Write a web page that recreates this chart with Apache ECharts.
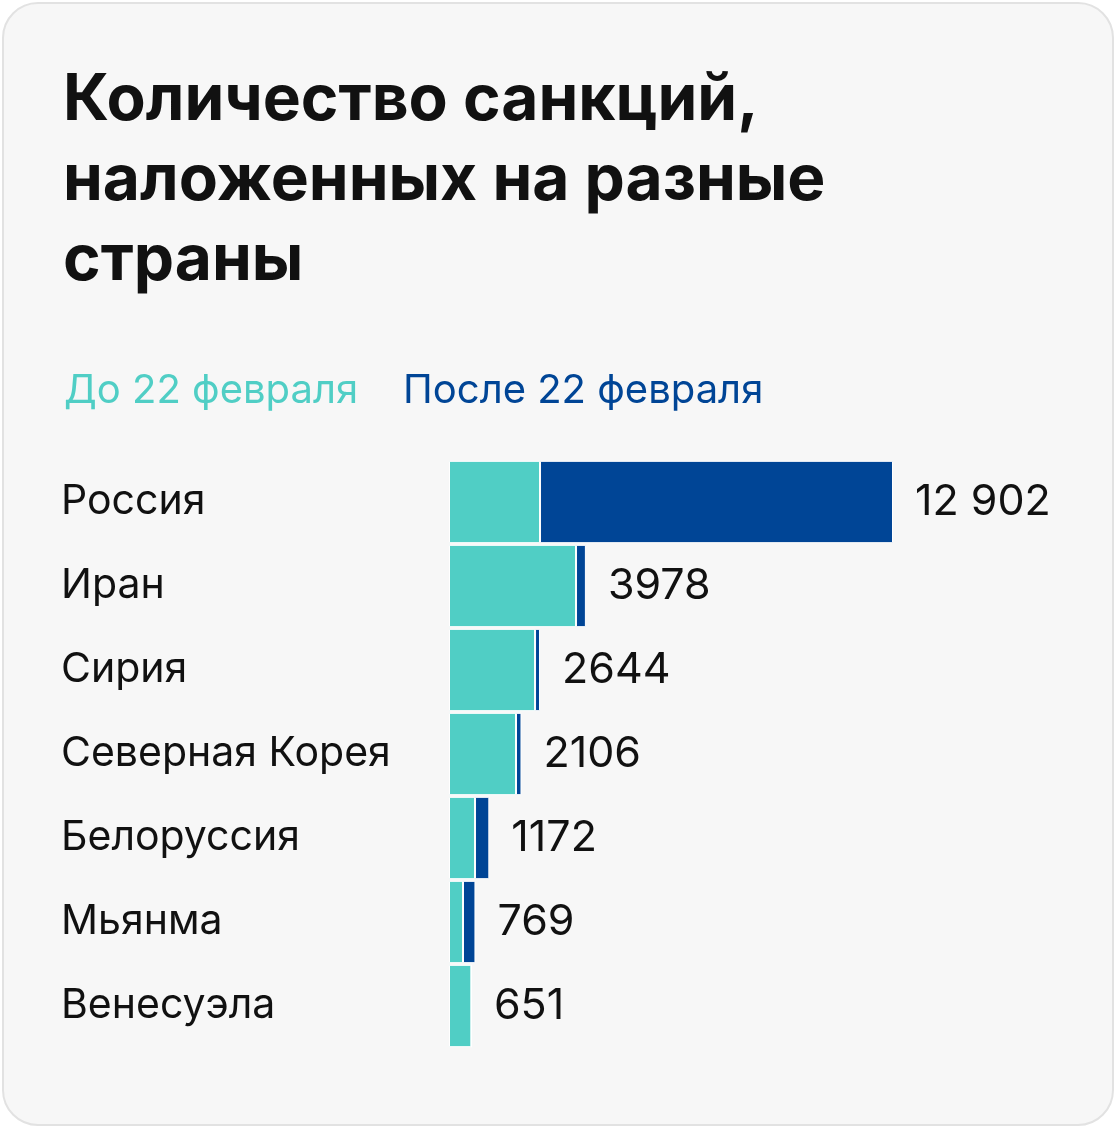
<!DOCTYPE html>
<html><head><meta charset="utf-8">
<script src="https://cdn.jsdelivr.net/npm/echarts@6/dist/echarts.min.js"></script>
<style>
html,body{margin:0;padding:0;background:#fff;}
#card{position:absolute;left:2px;top:2px;width:1112px;height:1124px;border:2px solid #e2e2e2;border-radius:36px;background:#f7f7f7;box-sizing:border-box;}
#c{position:absolute;left:0;top:0;width:1120px;height:1132px;}
</style></head><body>
<div id="card"></div><div id="c"></div>
<script>
const categories = ["Россия","Иран","Сирия","Северная Корея","Белоруссия","Мьянма","Венесуэла"];
const before = [2645, 3691, 2500, 1947, 756, 407, 651];
const totals = [12902, 3978, 2644, 2106, 1172, 769, 651];
const after = totals.map((t,i)=>t-before[i]);
const seriesNames = ["До 22 февраля","После 22 февраля"];
const teal = "#50cec5", navy = "#004596";
const chart = echarts.init(document.getElementById('c'), null, {renderer:'canvas'});
chart.setOption({
  backgroundColor:'transparent',
  animation:false,
  title:{text:"Количество санкций,\nналоженных на разные\nстраны", left:58, top:56,
    textStyle:{fontFamily:'Inter',fontWeight:'bold',fontSize:64,lineHeight:80,color:'#111'}},
  legend:{left:54, top:366, icon:'none', itemWidth:0, itemGap:40,
    textStyle:{fontFamily:'Inter',fontSize:40},
    data:[{name:seriesNames[0],textStyle:{color:teal}},{name:seriesNames[1],textStyle:{color:navy}}]},
  grid:{left:449, width:444, top:460, height:588},
  xAxis:{type:'value', min:0, max:12902, show:false},
  yAxis:{type:'category', data:categories, inverse:true,
    axisLine:{show:false}, axisTick:{show:false},
    axisLabel:{align:'left', margin:388, fontFamily:'Inter', fontSize:41, color:'#111'}},
  series:[
    {name:seriesNames[0], type:'bar', stack:'a', data:before, barWidth:'98%',
      itemStyle:{color:teal, borderColor:'#fff', borderWidth:1}},
    {name:seriesNames[1], type:'bar', stack:'a', data:after, barWidth:'98%',
      itemStyle:{color:navy, borderColor:'#fff', borderWidth:1},
      label:{show:true, position:'right', distance:22, fontFamily:'Inter', fontSize:43, color:'#111',
        formatter:p=>{const v=totals[p.dataIndex];return v>=10000?String(v).replace(/(\d)(?=(\d{3})$)/,'$1 '):String(v);}}}
  ]
});
</script></body></html>
